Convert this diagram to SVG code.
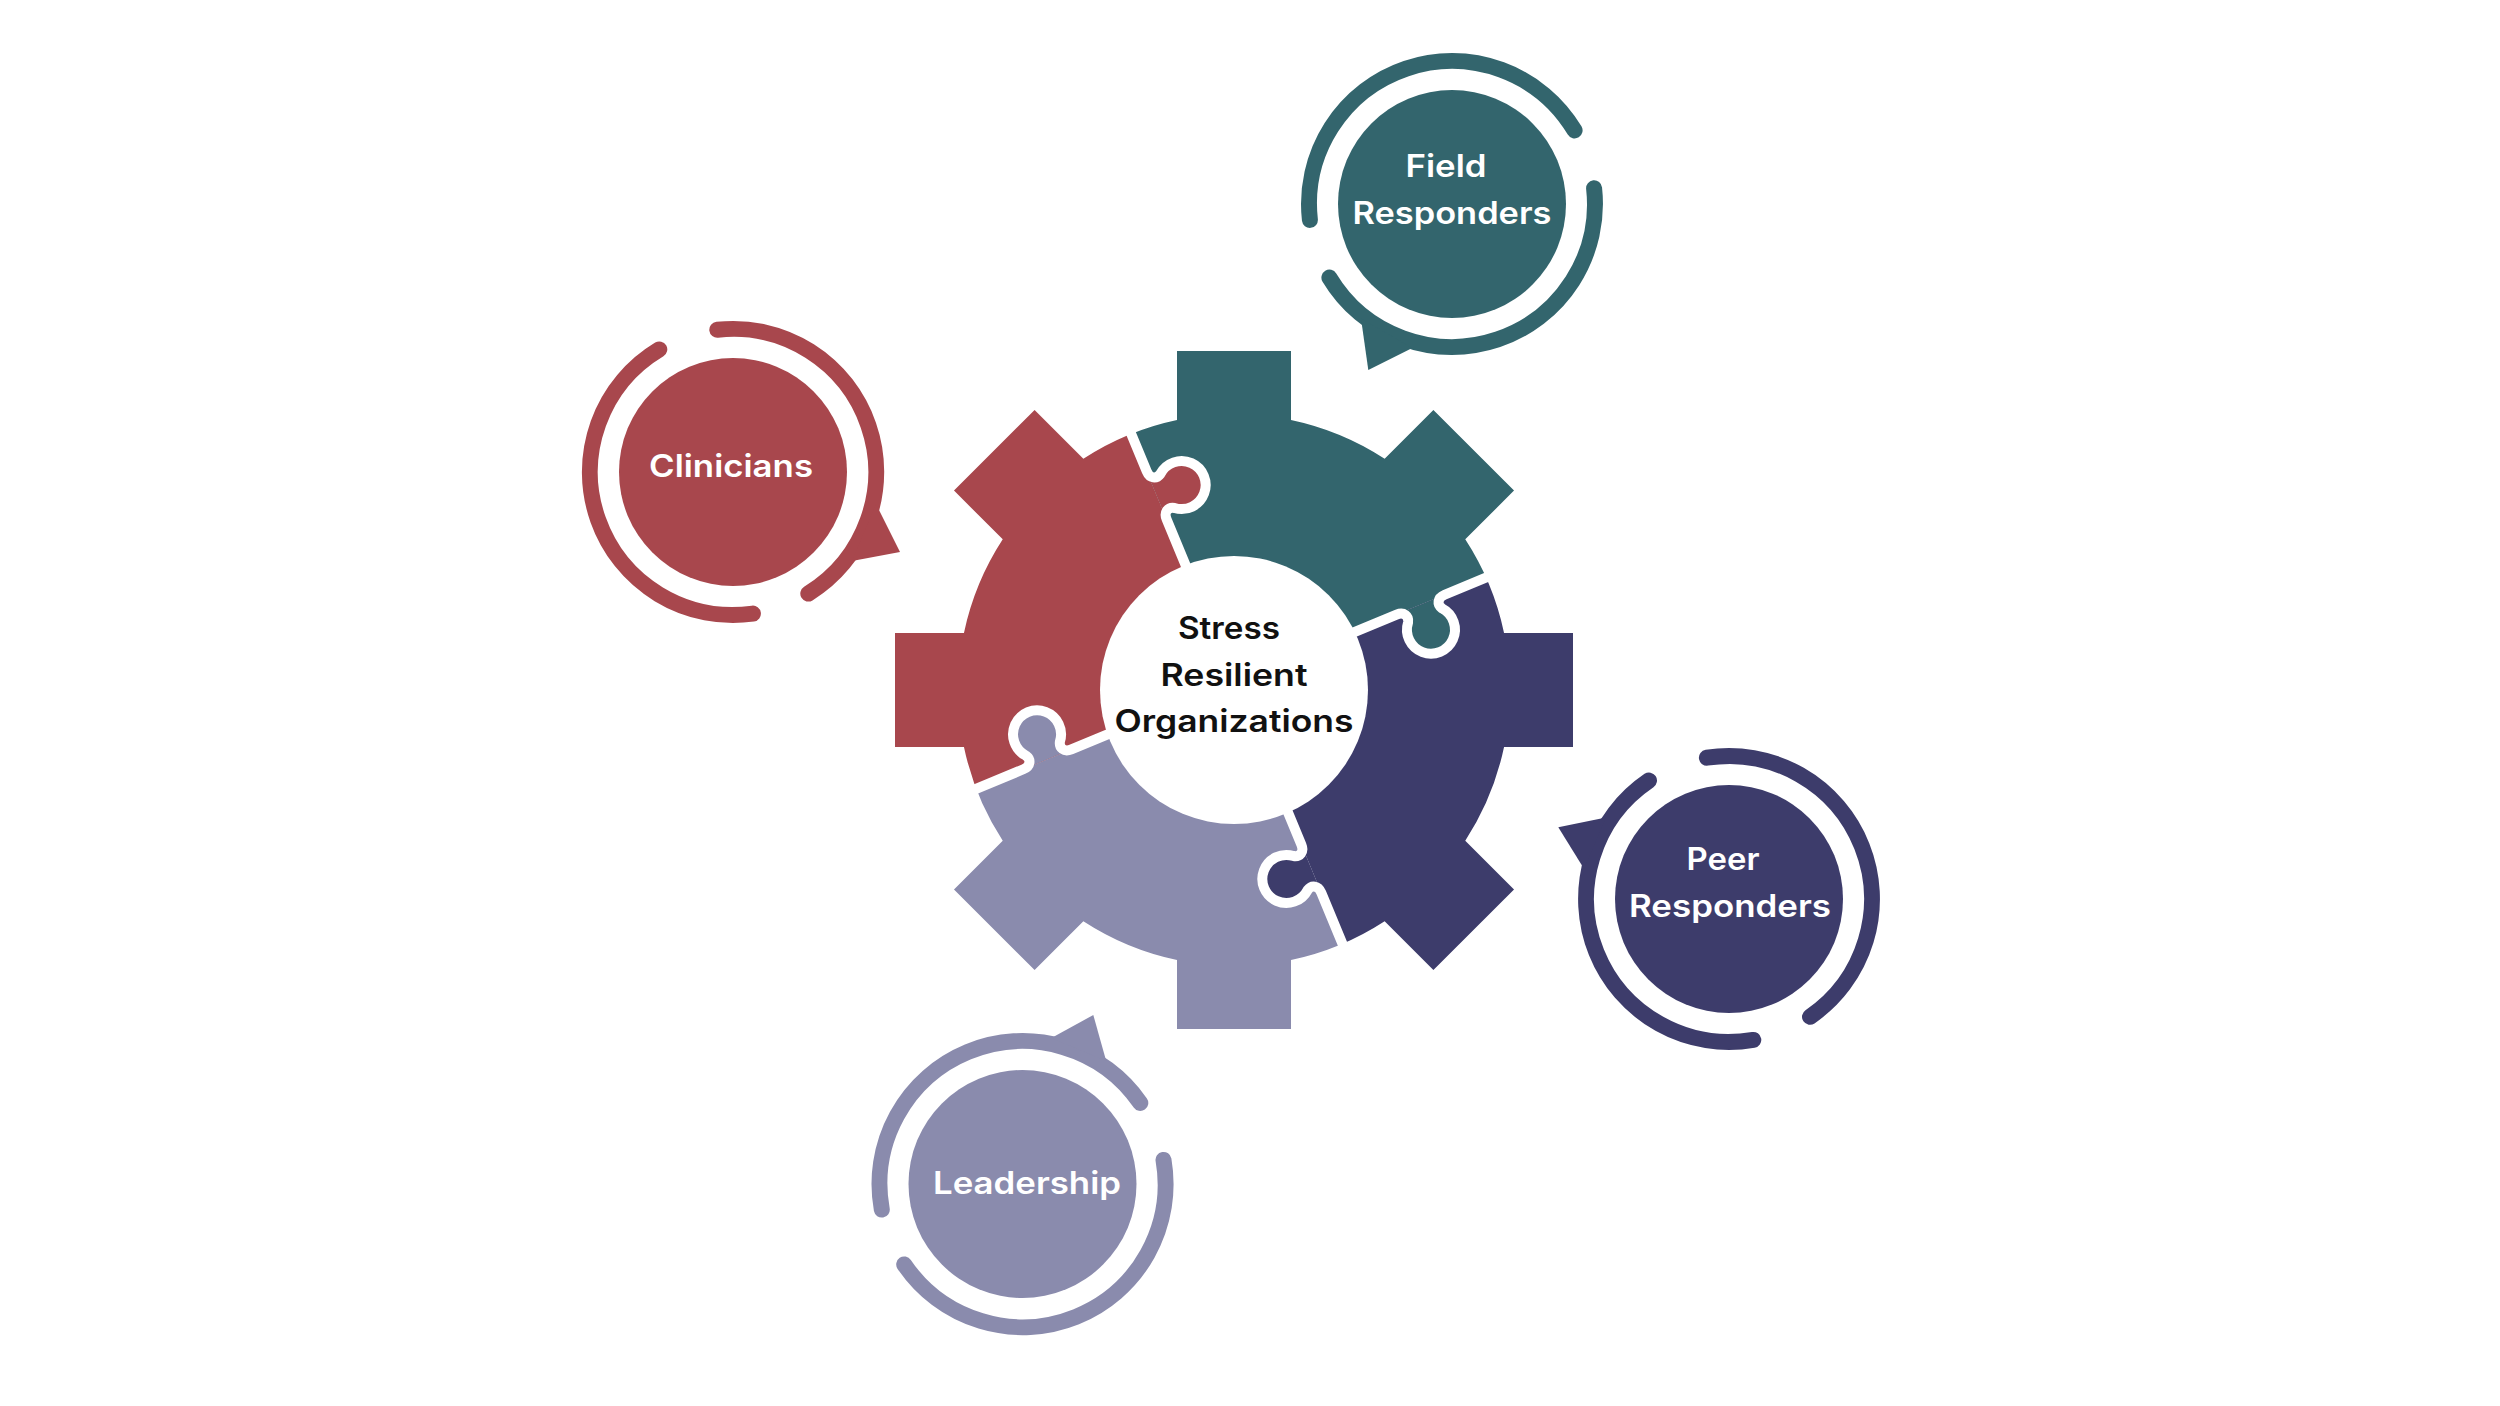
<svg xmlns="http://www.w3.org/2000/svg" width="2500" height="1406" viewBox="0 0 2500 1406">
<defs>
<style>
.lbl{font-family:Inter,"Open Sans","DejaVu Sans",sans-serif;font-weight:600;font-size:31px;fill:#ffffff;text-anchor:middle}
.ctr{fill:#111111}
.ring{fill:none;stroke-width:16;stroke-linecap:round}
.sep{fill:none;stroke:#ffffff;stroke-width:10;stroke-linejoin:round}
.teal{fill:#33656D}.tealS{stroke:#33656D}
.red{fill:#A8474D}.redS{stroke:#A8474D}
.navy{fill:#3D3C6B}.navyS{stroke:#3D3C6B}
.lav{fill:#8A8BAD}.lavS{stroke:#8A8BAD}
</style>
<clipPath id="gearClip">
<circle cx="0" cy="0" r="276"/>
<rect x="-57" y="-339" width="114" height="339"/>
<rect x="-57" y="-339" width="114" height="339" transform="rotate(45)"/>
<rect x="-57" y="-339" width="114" height="339" transform="rotate(90)"/>
<rect x="-57" y="-339" width="114" height="339" transform="rotate(135)"/>
<rect x="-57" y="-339" width="114" height="339" transform="rotate(180)"/>
<rect x="-57" y="-339" width="114" height="339" transform="rotate(225)"/>
<rect x="-57" y="-339" width="114" height="339" transform="rotate(270)"/>
<rect x="-57" y="-339" width="114" height="339" transform="rotate(315)"/>
</clipPath>
<path id="sector" d="M0 0 L369.6 -153.1 A400 400 0 0 1 153.1 369.6 Z"/>
<path id="knob" d="M176 0 C184 0 187 6 183.6 11.6 A24 24 0 1 0 220.4 11.6 C217 6 220 0 228 0 Z"/>
<path id="sepline" d="M110 0 L176 0 C184 0 187 6 183.6 11.6 A24 24 0 1 0 220.4 11.6 C217 6 220 0 228 0 L300 0"/>
</defs>
<rect width="2500" height="1406" fill="#ffffff"/>

<g id="gear" transform="translate(1234,690)">
  <g id="gear-sections" clip-path="url(#gearClip)">
    <g transform="translate(0,-8)">
      <use href="#sector" class="teal" transform="rotate(-90)"/>
      <use href="#sector" class="navy"/>
      <use href="#sector" class="lav" transform="rotate(90)"/>
      <use href="#sector" class="red" transform="rotate(180)"/>
    </g>
  </g>
  <g id="gear-knobs" transform="translate(0,-8)">
    <use href="#knob" class="teal" transform="rotate(-22.5)"/>
    <use href="#knob" class="navy" transform="rotate(67.5)"/>
    <use href="#knob" class="lav" transform="rotate(157.5)"/>
    <use href="#knob" class="red" transform="rotate(-112.5)"/>
  </g>
  <g id="gear-separators" transform="translate(0,-8)">
    <use href="#sepline" class="sep" transform="rotate(-22.5)"/>
    <use href="#sepline" class="sep" transform="rotate(67.5)"/>
    <use href="#sepline" class="sep" transform="rotate(157.5)"/>
    <use href="#sepline" class="sep" transform="rotate(-112.5)"/>
  </g>
  <circle cx="0" cy="0" r="134" fill="#ffffff"/>
</g>
<g id="center-label">
  <text class="lbl ctr" x="1229" y="639" textLength="102" lengthAdjust="spacingAndGlyphs">Stress</text>
  <text class="lbl ctr" x="1234" y="686" textLength="147" lengthAdjust="spacingAndGlyphs">Resilient</text>
  <text class="lbl ctr" x="1234" y="732" textLength="239" lengthAdjust="spacingAndGlyphs">Organizations</text>
</g>

<g id="node-field-responders">
  <path class="ring tealS" d="M1309.9 219.9 A143 143 0 0 1 1574.6 130.4"/>
  <path class="ring tealS" d="M1594.1 188.3 A143 143 0 0 1 1329.4 277.6"/>
  <polygon class="teal" points="1361,318.6 1368.3,370 1412.3,348"/>
  <circle class="teal" cx="1452" cy="204" r="114"/>
  <text class="lbl" x="1446" y="177" textLength="81" lengthAdjust="spacingAndGlyphs">Field</text>
  <text class="lbl" x="1452" y="224" textLength="199" lengthAdjust="spacingAndGlyphs">Responders</text>
</g>

<g id="node-clinicians">
  <path class="ring redS" d="M717.3 329.8 A143 143 0 0 1 808.3 593.6"/>
  <path class="ring redS" d="M752.9 613.6 A143 143 0 0 1 659.3 349.4"/>
  <polygon class="red" points="876,504 900,552 852,561"/>
  <circle class="red" cx="733" cy="472" r="114"/>
  <text class="lbl" x="731" y="477" textLength="164" lengthAdjust="spacingAndGlyphs">Clinicians</text>
</g>

<g id="node-peer-responders">
  <path class="ring navyS" d="M1706.9 757.7 A143 143 0 0 1 1810 1016.8"/>
  <path class="ring navyS" d="M1753.3 1039.9 A143 143 0 0 1 1649 780.5"/>
  <polygon class="navy" points="1606,817.4 1558.3,827.3 1584,868.8"/>
  <circle class="navy" cx="1729" cy="899" r="114"/>
  <text class="lbl" x="1723" y="870" textLength="73" lengthAdjust="spacingAndGlyphs">Peer</text>
  <text class="lbl" x="1730" y="917" textLength="202" lengthAdjust="spacingAndGlyphs">Responders</text>
</g>

<g id="node-leadership">
  <path class="ring lavS" d="M881.8 1209.6 A143 143 0 0 1 1140.3 1103"/>
  <path class="ring lavS" d="M1163.5 1159.9 A143 143 0 0 1 904.2 1264.4"/>
  <polygon class="lav" points="1051.4,1038 1093.3,1015 1106.2,1060.9"/>
  <circle class="lav" cx="1022.5" cy="1184" r="114"/>
  <text class="lbl" x="1027" y="1194" textLength="188" lengthAdjust="spacingAndGlyphs">Leadership</text>
</g>

<g id="connectors"/>
</svg>
